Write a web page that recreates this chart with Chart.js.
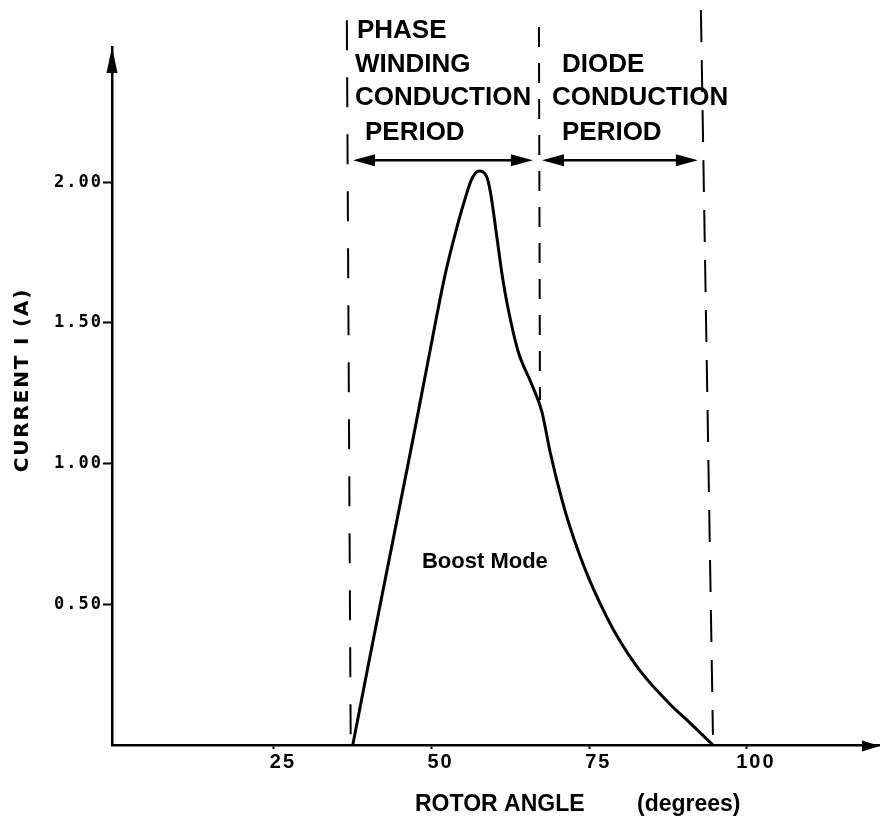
<!DOCTYPE html>
<html>
<head>
<meta charset="utf-8">
<script src="https://cdn.jsdelivr.net/npm/chart.js@4.4.1/dist/chart.umd.min.js"></script>
<style>
    html, body { margin: 0; padding: 0; background: #fff; }
    #wrap { width: 880px; height: 816px; }
</style>
</head>
<body>
<div id="wrap"><canvas id="chart" width="880" height="816"></canvas></div>
<script>
// 电流曲线 (rotor angle in degrees, current in A)
const rotorAngle = [37.5, 40.1, 42.3, 46.9, 49.4, 52.1, 54.2, 55.3, 56.35, 57.55, 58.75, 59.35, 60.2, 61.25,
                    62.0, 63.7, 65.9, 67.5, 68.8, 70.8, 72.6, 74.6, 77.0, 79.4, 83.0, 87.8, 91.0, 94.6];
const currentA = [0, 0.30, 0.55, 1.07, 1.36, 1.667, 1.855, 1.940, 2.010, 2.039, 2.018, 1.961, 1.829, 1.66,
                  1.565, 1.40, 1.28, 1.183, 1.04, 0.86, 0.73, 0.61, 0.49, 0.387, 0.265, 0.145, 0.078, 0];

// dashed period boundaries
const boundaryAngleTop = [36.56, 67.02, 92.70];
const boundaryAngleBottom = [37.17, 67.18, 94.61];
const boundaryTop = [2.575, 2.551, 2.611];
const boundaryBottom = [0, 1.226, 0.036];
const boundaryDash = [[30, 27], [20, 16], [32, 18]];

// double-headed arrows for the two periods
const spanStart = [37.53, 67.50];
const spanEnd = [66.06, 92.22];
const spanLevel = 2.078;

// annotation text
const labelText = ['PHASE', 'WINDING', 'CONDUCTION', 'PERIOD', 'DIODE', 'CONDUCTION', 'PERIOD', 'Boost Mode'];
const labelAngle = [38.16, 37.85, 37.85, 39.43, 70.67, 69.09, 70.67, 48.47];
const labelCurrent = [2.512, 2.391, 2.273, 2.149, 2.391, 2.273, 2.149, 0.629];

// ticks
const xTicks = [25, 50, 75, 100];
const yTicks = [0.5, 1.0, 1.5, 2.0];

const curveData = rotorAngle.map((a, i) => ({ x: a, y: currentA[i] }));

const boundarySets = boundaryTop.map((t, i) => ({
    data: [
        { x: boundaryAngleTop[i], y: t },
        { x: boundaryAngleBottom[i], y: boundaryBottom[i] }
    ],
    borderColor: '#000',
    borderWidth: 2,
    borderDash: boundaryDash[i],
    pointRadius: 0,
    fill: false,
    clip: false
}));

function arrowHead(ctx, x, y, dir, len, half) {
    // dir: 'left' | 'right' | 'up'
    ctx.beginPath();
    if (dir === 'right') {
        ctx.moveTo(x, y);
        ctx.lineTo(x - len, y - half);
        ctx.lineTo(x - len, y + half);
    } else if (dir === 'left') {
        ctx.moveTo(x, y);
        ctx.lineTo(x + len, y - half);
        ctx.lineTo(x + len, y + half);
    } else {
        ctx.moveTo(x, y);
        ctx.lineTo(x - half, y + len);
        ctx.lineTo(x + half, y + len);
    }
    ctx.closePath();
    ctx.fill();
}

// 刻度字体加宽字距
const spacingPlugin = {
    id: 'spacing',
    beforeDraw(chart) {
        if ('letterSpacing' in chart.ctx) chart.ctx.letterSpacing = '2px';
    }
};

const decorPlugin = {
    id: 'decor',
    afterDraw(chart) {
        const ctx = chart.ctx;
        const xs = chart.scales.x;
        const ys = chart.scales.y;
        const area = chart.chartArea;
        if ('letterSpacing' in ctx) ctx.letterSpacing = '0px';
        ctx.save();
        ctx.fillStyle = '#000';
        ctx.strokeStyle = '#000';

        // axis arrows
        arrowHead(ctx, area.left, area.top, 'up', 26, 5.5);
        arrowHead(ctx, area.right, area.bottom + 1, 'right', 18, 5.5);

        // period arrows
        const py = ys.getPixelForValue(spanLevel);
        ctx.lineWidth = 2.5;
        spanStart.forEach((s, i) => {
            const x1 = xs.getPixelForValue(s);
            const x2 = xs.getPixelForValue(spanEnd[i]);
            ctx.beginPath();
            ctx.moveTo(x1 + 10, py);
            ctx.lineTo(x2 - 10, py);
            ctx.stroke();
            arrowHead(ctx, x1, py, 'left', 22, 6);
            arrowHead(ctx, x2, py, 'right', 22, 6);
        });

        // annotation labels
        ctx.textAlign = 'left';
        ctx.textBaseline = 'alphabetic';
        labelText.forEach((t, i) => {
            ctx.font = t === 'Boost Mode' ? 'bold 22px "Liberation Sans", Arial, sans-serif'
                                          : 'bold 26px "Liberation Sans", Arial, sans-serif';
            ctx.fillText(t, xs.getPixelForValue(labelAngle[i]), ys.getPixelForValue(labelCurrent[i]));
        });

        // axis titles
        ctx.font = 'bold 23px "Liberation Sans", Arial, sans-serif';
        ctx.fillText('ROTOR ANGLE', 415, 811);
        ctx.fillText('(degrees)', 637, 811);

        ctx.save();
        ctx.translate(28, 380);
        ctx.rotate(-Math.PI / 2);
        ctx.textAlign = 'center';
        ctx.font = 'bold 20px "DejaVu Sans", sans-serif';
        if ('letterSpacing' in ctx) ctx.letterSpacing = '1.8px';
        ctx.fillText('CURRENT I (A)', 0, 0);
        if ('letterSpacing' in ctx) ctx.letterSpacing = '0px';
        ctx.restore();

        ctx.restore();
    }
};

new Chart(document.getElementById('chart').getContext('2d'), {
    type: 'line',
    data: {
        datasets: [{
            data: curveData,
            borderColor: '#000',
            borderWidth: 3,
            pointRadius: 0,
            fill: false,
            cubicInterpolationMode: 'monotone'
        }, ...boundarySets]
    },
    options: {
        responsive: false,
        animation: false,
        layout: { padding: { left: 0, right: 0, top: 47, bottom: 0 } },
        plugins: {
            legend: { display: false },
            tooltip: { enabled: false }
        },
        scales: {
            x: {
                type: 'linear',
                min: -0.68,
                max: 121.1,
                afterBuildTicks: scale => { scale.ticks = xTicks.map(v => ({ value: v })); },
                afterFit: scale => { scale.height = 71; },
                ticks: {
                    color: '#000',
                    padding: 1,
                    labelOffset: 9,
                    maxRotation: 0,
                    font: { family: '"Liberation Sans", Arial, sans-serif', size: 20, weight: 'bold' },
                    callback: v => String(v)
                },
                grid: { display: true, drawOnChartArea: false, tickLength: 4, tickColor: '#000', tickWidth: 2 },
                border: { display: true, color: '#000', width: 2.5 }
            },
            y: {
                type: 'linear',
                min: 0,
                max: 2.48,
                afterBuildTicks: scale => { scale.ticks = yTicks.map(v => ({ value: v })); },
                afterFit: scale => { scale.width = 112; },
                ticks: {
                    color: '#000',
                    padding: 0,
                    font: { family: '"DejaVu Sans Mono", monospace', size: 17, weight: 'bold' },
                    callback: v => Number(v).toFixed(2)
                },
                grid: { display: true, drawOnChartArea: false, tickLength: 9, tickColor: '#000', tickWidth: 2 },
                border: { display: true, color: '#000', width: 2.5 }
            }
        }
    },
    plugins: [spacingPlugin, decorPlugin]
});
</script>
</body>
</html>
